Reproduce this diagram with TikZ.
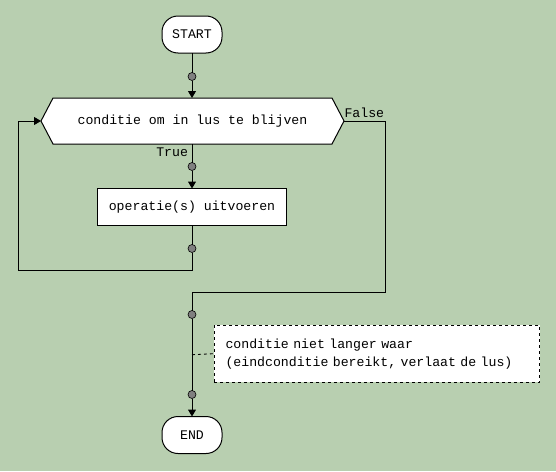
\documentclass[tikz,border=0pt]{standalone}
\usepackage{fontspec}
\setmonofont{Liberation Mono}
\newfontfamily\diagfont{Liberation Mono}
\usetikzlibrary{arrows.meta}
\definecolor{bggreen}{RGB}{184,207,176}
\definecolor{dotgray}{RGB}{128,128,128}
\begin{document}
\begin{tikzpicture}[x=1pt,y=-1pt,line width=1pt,
  font=\diagfont\fontsize{13.2}{18}\selectfont,
  term/.style={draw,fill=white,rounded corners=16pt,minimum width=60pt,minimum height=37pt,inner sep=0pt,outer sep=0pt},
  opbox/.style={draw,fill=white,minimum width=189pt,minimum height=37pt,inner sep=0pt,outer sep=0pt},
  dot/.style={circle,draw,fill=dotgray,line width=0.6pt,minimum size=8pt,inner sep=0pt,outer sep=0pt},
  conn/.style={draw},
  arr/.style={-{Triangle[width=8pt,length=7pt]}},
  lbl/.style={inner sep=0pt,outer sep=0pt}]
\fill[bggreen] (0,0) rectangle (556,471);
\useasboundingbox (0,0) rectangle (556,471);
% nodes
\node[term] (start) at (192,34.5) {START};
\node[dot] (d1) at (192,76.5) {};
\node[inner sep=0pt,outer sep=0pt,minimum width=303pt,minimum height=46pt] (cond) at (192.5,121) {};
\fill[white] (cond.west) -- ([xshift=12pt]cond.north west) -- ([xshift=-12pt]cond.north east) -- (cond.east) -- ([xshift=-12pt]cond.south east) -- ([xshift=12pt]cond.south west) -- cycle;
\draw (cond.west) -- ([xshift=12pt]cond.north west) -- ([xshift=-12pt]cond.north east) -- (cond.east) -- ([xshift=-12pt]cond.south east) -- ([xshift=12pt]cond.south west) -- cycle;
\node[lbl] at (cond.center) {conditie om in lus te blijven};
\node[dot] (d2) at (192,166.5) {};
\node[opbox] (op) at (192,207) {operatie(s) uitvoeren};
\node[dot] (d3) at (192,248.5) {};
\node[dot] (d4) at (192,314.5) {};
\node[dot] (d5) at (192,394.5) {};
\node[term] (end) at (192,435) {END};
\node[draw,dashed,line width=0.8pt,fill=white,align=left,text width=303pt,inner xsep=11.2pt,inner ysep=0pt,minimum height=57pt,outer sep=0pt,anchor=west] (cmt) at (214.3,353.7) {conditie niet langer waar\\(eindconditie bereikt, verlaat de lus)};
\node[lbl,anchor=east] (truelbl) at (188,152) {True};
\node[lbl,anchor=west] (falselbl) at (344.5,113) {False};
% helper coordinates
\coordinate (lb) at (192,270.3);
\coordinate (ll) at (18.3,270.3);
\coordinate (lt) at (18.3,121);
\coordinate (fr) at (385,121);
\coordinate (fb) at (385,292.3);
\coordinate (fj) at (192,292.3);
\coordinate (cj) at (192,354.7);
% connectors
\draw[conn] (start) -- (d1);
\draw[conn,arr] (d1) -- (cond.north -| d1);
\draw[conn] (cond.south -| d2) -- (d2);
\draw[conn,arr] (d2) -- (op.north);
\draw[conn] (op.south) -- (d3);
\draw[conn,arr] (d3) -- (lb) -- (ll) -- (lt) -- (cond.west);
\draw[conn] (cond.east) -- (fr) -- (fb) -- (fj) -- (d4);
\draw[conn] (d4) -- (d5);
\draw[conn,arr] (d5) -- (end.north);
\draw[dashed,line width=0.8pt] (cj) -- (cmt.west);
\end{tikzpicture}
\end{document}
